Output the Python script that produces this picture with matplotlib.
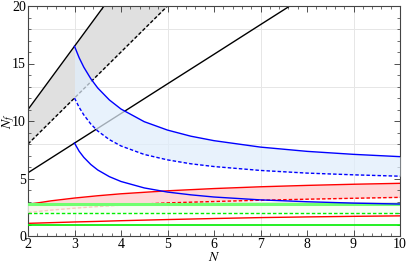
import numpy as np
import matplotlib

matplotlib.use("Agg")
import matplotlib.pyplot as plt
from matplotlib.ticker import MultipleLocator

plt.rcParams["font.family"] = ["Liberation Serif", "DejaVu Serif"]
plt.rcParams["mathtext.fontset"] = "stix"

# --- fundamental (black) ---
fund_up_n = [2, 3, 3.636]
fund_up_nf = [11, 16.5, 20]
fund_dash_n = [2, 5]
fund_dash_nf = [8, 20]
fund_low_n = [2, 3, 4, 5, 6, 7, 7.63]
fund_low_nf = [5.5, 8.08, 10.65, 13.23, 15.8, 18.38, 20]

# --- antisymmetric (blue) ---
as_n = [3, 3.1, 3.2, 3.35, 3.5, 3.75, 4, 4.5, 5, 5.5, 6, 7, 8, 9, 10]
as_up = [16.5, 15.5, 14.68, 13.68, 12.87, 11.83, 11.04, 9.94, 9.21, 8.68, 8.29, 7.73, 7.36, 7.1, 6.9]
as_dash = [12.0, 11.19, 10.53, 9.74, 9.13, 8.38, 7.83, 7.09, 6.62, 6.28, 6.04, 5.7, 5.47, 5.32, 5.2]
as_low = [8.08, 7.37, 6.84, 6.22, 5.74, 5.16, 4.74, 4.18, 3.82, 3.58, 3.39, 3.14, 2.98, 2.86, 2.78]

# --- symmetric (red) ---
s_n = [2, 2.5, 3, 3.5, 4, 5, 6, 7, 8, 9, 10]
s_up = [2.75, 3.06, 3.3, 3.5, 3.67, 3.93, 4.125, 4.28, 4.4, 4.5, 4.58]
s_dash = [2.05, 2.25, 2.42, 2.56, 2.68, 2.88, 3.0, 3.11, 3.2, 3.28, 3.36]
s_low = [1.1, 1.16, 1.22, 1.27, 1.33, 1.43, 1.52, 1.6, 1.66, 1.71, 1.75]

# --- adjoint (green), constant in N ---
adj_n = [2, 10]
adj_up = [2.75, 2.75]
adj_dash = [2.0, 2.0]
adj_low = [1.0, 1.0]

DASH = (0, (2.5, 1.5))

fig = plt.figure(figsize=(4.07, 2.63), dpi=100)
ax = fig.add_axes([28 / 407, 1 - 236 / 263, 372 / 407, 230 / 263])

for gx in [3, 5, 7, 9]:
    ax.axvline(gx, color="0.9", lw=0.7, zorder=0)
for gy in [3, 8, 13, 18]:
    ax.axhline(gy, color="0.9", lw=0.7, zorder=0)

# grey band (fundamental): between 11N/2 line and dashed line, clipped at the top
band_n = [2, 3, 3.636, 5]
band_top = np.minimum(np.interp(band_n, fund_up_n, fund_up_nf, right=20), 20)
band_bot = np.interp(band_n, fund_dash_n, fund_dash_nf)
ax.fill_between(band_n, band_bot, band_top, color="#e0e0e0", zorder=1, lw=0)
ax.plot(fund_up_n, fund_up_nf, color="k", lw=1.0, zorder=2)
ax.plot(fund_dash_n, fund_dash_nf, color="k", lw=1.0, ls=DASH, zorder=2)
ax.plot(fund_low_n, fund_low_nf, color="k", lw=1.0, zorder=2)

# red band (symmetric)
ax.fill_between(s_n, s_dash, s_up, color="#ffd8d8", zorder=1, lw=0)
ax.plot(s_n, s_up, color="#ff0000", lw=1.0, zorder=2)
ax.plot(s_n, s_dash, color="#ff0000", lw=1.0, ls=DASH, zorder=2)
ax.plot(s_n, s_low, color="#ff0000", lw=1.0, zorder=2)

# green (adjoint)
ax.fill_between(adj_n, adj_dash, adj_up, color="#f6fff2", alpha=0.8, zorder=3, lw=0)
ax.plot(adj_n, adj_up, color="#70ff70", lw=2.2, zorder=4)
ax.plot(adj_n, adj_dash, color="#00ee00", lw=1.0, ls=DASH, zorder=4)
ax.plot(adj_n, adj_low, color="#00ee00", lw=1.2, zorder=4)

# blue band (antisymmetric), translucent over the black lines
ax.fill_between(as_n, as_dash, as_up, color="#e0eefc", alpha=0.72, zorder=5, lw=0)
ax.plot(as_n, as_up, color="#0000ff", lw=1.0, zorder=6)
ax.plot(as_n, as_dash, color="#0000ff", lw=1.0, ls=DASH, zorder=6)
ax.plot(as_n, as_low, color="#0000ff", lw=1.0, zorder=6)

ax.set_xlim(2, 10)
ax.set_ylim(0, 20)
ax.xaxis.set_major_locator(MultipleLocator(1))
ax.xaxis.set_minor_locator(MultipleLocator(0.2))
ax.yaxis.set_major_locator(MultipleLocator(5))
ax.yaxis.set_minor_locator(MultipleLocator(1))
ax.tick_params(which="both", direction="in", top=True, right=True, colors="#333333",
               labelcolor="black", labelsize=10, pad=1.5)
ax.tick_params(which="major", length=4, width=0.6)
ax.tick_params(which="minor", length=2, width=0.5)
for sp in ax.spines.values():
    sp.set_color("#444444")
    sp.set_linewidth(0.8)

ax.set_xlabel("$N$", fontsize=10, labelpad=0)
ax.set_ylabel("$N_f$", fontsize=10)
ax.yaxis.set_label_coords(-0.03, 0.5)

fig.savefig("out.png", dpi=100)
